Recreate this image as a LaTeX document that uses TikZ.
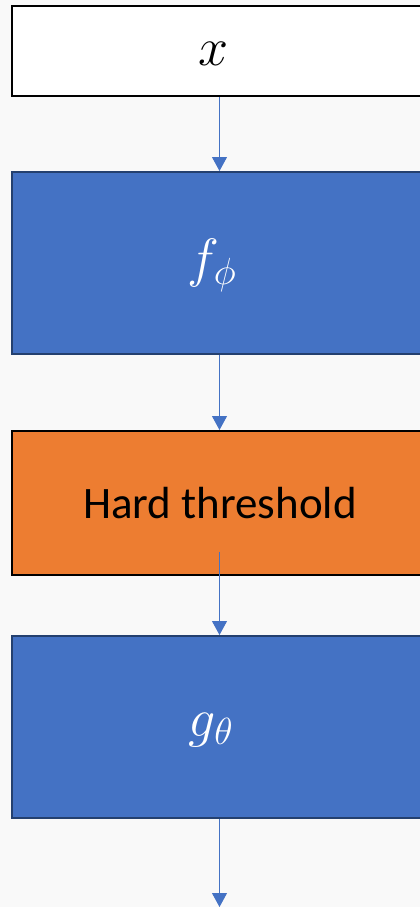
\RequirePackage{fix-cm}
\documentclass[tikz,border=0pt]{standalone}
\usepackage{fontspec}
\setmainfont{Carlito}
\usetikzlibrary{arrows.meta}
\definecolor{bg}{HTML}{F9F9F9}
\definecolor{blu}{HTML}{4472C4}
\definecolor{bluedge}{HTML}{24406F}
\definecolor{org}{HTML}{ED7D31}
\tikzset{
  box/.style={rectangle, minimum width=416pt, line width=2pt, inner sep=0pt},
  conn/.style={draw=blu, line width=1pt, -{Triangle[width=15pt,length=14pt]}},
  mathlbl/.style={font=\fontsize{54}{60}\selectfont}
}
\begin{document}
\begin{tikzpicture}[x=1pt,y=-1pt]
\path[fill=bg] (0,0) rectangle (420,907);
\clip (0,0) rectangle (420,907);
\node[box, draw=black, fill=white, minimum height=90pt] (xin) at (220,51) {};
\node[box, draw=bluedge, fill=blu, minimum height=182pt] (f) at (220,263) {};
\node[box, draw=black, fill=org, minimum height=144pt, font=\fontsize{45}{50}\selectfont, text=black] (ht) at (220,503) {Hard threshold};
\node[box, draw=bluedge, fill=blu, minimum height=182pt] (g) at (220,727) {};
\node[mathlbl, text=black] (xl) at (214,54) {$x$};
\node[mathlbl, text=white] (fl) at (212,265) {$f_\phi$};
\node[mathlbl, text=white] (gl) at (211,730) {$g_\theta$};
\coordinate (hs) at (219.5,552);
\coordinate (out) at (219.5,907);
\draw[conn] (xin.south -| hs) -- (f.north -| hs);
\draw[conn] (f.south -| hs) -- (ht.north -| hs);
\draw[conn] (hs) -- (g.north -| hs);
\draw[conn] (g.south -| hs) -- (out);
\end{tikzpicture}
\end{document}
